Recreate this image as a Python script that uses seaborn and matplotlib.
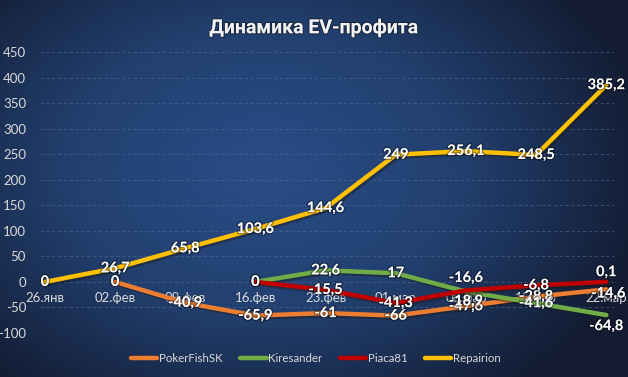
import numpy as np
import pandas as pd
import matplotlib
matplotlib.use("Agg")
import matplotlib.pyplot as plt
import matplotlib.patheffects as pe
from matplotlib.colors import LinearSegmentedColormap
from matplotlib.lines import Line2D
import seaborn as sns

categories = ["26.янв", "02.фев", "09.фев", "16.фев", "23.фев", "01.мар", "08.мар", "15.мар", "22.мар"]
poker = [np.nan, 0, -40.9, -65.9, -61, -66, -47.6, -28.8, -14.6]
kires = [np.nan, np.nan, np.nan, 0, 22.6, 17, -18.9, -41.6, -64.8]
piaca = [np.nan, np.nan, np.nan, 0, -15.5, -41.3, -16.6, -6.8, 0.1]
repair = [0, 26.7, 65.8, 103.6, 144.6, 249, 256.1, 248.5, 385.2]
series_names = ["PokerFishSK", "Kiresander", "Piaca81", "Repairion"]
colors = ["#ED7D31", "#70AD47", "#C00000", "#FFC000"]
yticks = [-100, -50, 0, 50, 100, 150, 200, 250, 300, 350, 400, 450]

# label nudges (points) for a few data labels: (series, index) -> (dx, dy)
nudges = {("Piaca81", 6): (0, 9), ("Kiresander", 6): (0, -7), ("Kiresander", 8): (0, -8),
          ("Piaca81", 8): (0, 7), ("PokerFishSK", 8): (1.5, -3)}

rows = []
for name, vals in zip(series_names, [poker, kires, piaca, repair]):
    for i, v in enumerate(vals):
        rows.append({"pos": i, "value": v, "series": name})
df = pd.DataFrame(rows)

sns.set_theme(style="white")
plt.rcParams["font.family"] = ["Lato", "DejaVu Sans"]

W, H = 628, 377
fig = plt.figure(figsize=(W / 100, H / 100), dpi=100)

# radial gradient background
bg = fig.add_axes([0, 0, 1, 1], zorder=-10)
yy, xx = np.mgrid[0:H, 0:W]
cx, cy = 0.42 * W, 0.45 * H
r = np.sqrt(((xx - cx) / (0.62 * W)) ** 2 + ((yy - cy) / (0.75 * H)) ** 2)
r = np.clip(r, 0, 1)
cmap = LinearSegmentedColormap.from_list("bg", ["#2a4d88", "#22406f", "#131c33"])
bg.imshow(r, cmap=cmap, aspect="auto", extent=[0, 1, 0, 1], origin="upper")
bg.axis("off")

ax = fig.add_axes([40 / W, (H - 333) / H, (614 - 40) / W, (333 - 52) / H])
ax.set_facecolor("none")

sns.lineplot(data=df, x="pos", y="value", hue="series", hue_order=series_names,
             palette=colors, linewidth=3.2, ax=ax, legend=False, zorder=3)
for line in ax.get_lines():
    line.set_path_effects([pe.SimpleLineShadow(offset=(1.5, -1.5), alpha=0.45), pe.Normal()])
    line.set_solid_capstyle("round")

ax.set_xlim(-0.07, 8.11)
ax.set_ylim(-100, 450)
ax.set_yticks(yticks)
ax.set_yticklabels([str(t) for t in yticks])
ax.set_xticks(range(len(categories)))
ax.set_xticklabels(categories)
ax.spines["bottom"].set_position(("data", 0))
for s in ax.spines.values():
    s.set_visible(False)
ax.tick_params(axis="y", length=0, pad=10, labelsize=9.5, labelcolor="#d9d9d9")
ax.tick_params(axis="x", length=0, pad=7, labelsize=9.5, labelcolor="#d9d9d9")
ax.yaxis.grid(True, color="#5a6f99", linestyle=(0, (4, 3)), linewidth=0.6, alpha=0.6)
ax.xaxis.grid(False)
ax.set_xlabel("")
ax.set_ylabel("")
ax.set_axisbelow(True)

# data labels
txt_fx = [pe.Stroke(linewidth=2, foreground=(0, 0, 0, 0.35)), pe.Normal()]
for name, vals in zip(series_names, [poker, kires, piaca, repair]):
    for i, v in enumerate(vals):
        if np.isnan(v):
            continue
        s = ("%g" % v).replace(".", ",")
        dx, dy = nudges.get((name, i), (0, 0))
        ax.annotate(s, (i, v), xytext=(dx, dy), textcoords="offset points",
                    ha="center", va="center", color="white", fontsize=10.5,
                    fontweight="bold", zorder=5, path_effects=txt_fx)

fig.text(0.5, 0.925, "Динамика EV-профита", ha="center", va="center", color="#f2f2f2",
         fontsize=14, fontweight="bold", family=["Roboto", "DejaVu Sans"],
         path_effects=[pe.SimpleLineShadow(), pe.Stroke(linewidth=1.5, foreground=(0, 0, 0, 0.4)), pe.Normal()])

handles = [Line2D([0], [0], color=c, lw=3.2, solid_capstyle="round") for c in colors]
leg = fig.legend(handles, series_names, loc="center", bbox_to_anchor=(0.503, 0.05), ncol=4,
                 frameon=False, fontsize=8.3, handlelength=2.3, handletextpad=0.15,
                 columnspacing=1.5, labelcolor="#d9d9d9")

fig.savefig("out.png", dpi=100)
